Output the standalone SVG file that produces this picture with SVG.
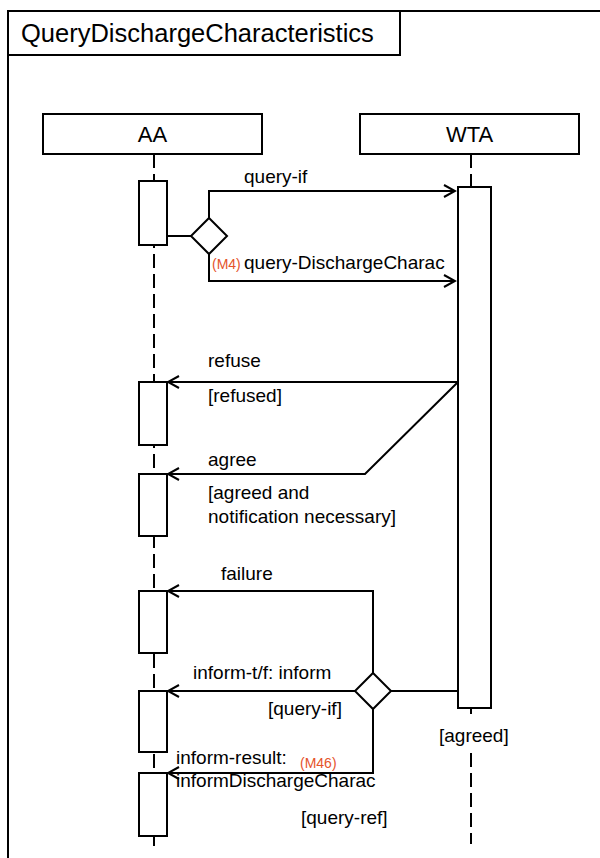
<svg xmlns="http://www.w3.org/2000/svg" width="600" height="858" viewBox="0 0 600 858">
<defs>
<marker id="open" markerWidth="14" markerHeight="14" refX="12" refY="7" orient="auto" markerUnits="userSpaceOnUse">
<path d="M1,1 L12,7 L1,13" fill="none" stroke="#000" stroke-width="2"/>
</marker>
<style>
text{font-family:"Liberation Sans",Arial,sans-serif;fill:#000}
.lbl{font-size:19px}
.red{font-size:14px;fill:#e5532b}
.box{fill:#fff;stroke:#000;stroke-width:2}
.ln{fill:none;stroke:#000;stroke-width:2}
.life{fill:none;stroke:#000;stroke-width:2;stroke-dasharray:14 6}
.msg{fill:none;stroke:#000;stroke-width:2;marker-end:url(#open)}
</style>
</defs>
<rect width="600" height="858" fill="#fff"/>
<g id="frame">
<path class="ln" d="M8,858 V11 H601"/>
<rect class="box" x="8" y="11" width="392" height="44"/>
<text x="21" y="42" font-size="25.5">QueryDischargeCharacteristics</text>
</g>
<g id="AA">
<path class="life" d="M154,154 V846"/>
<rect class="box" x="43" y="114" width="219" height="40"/>
<text x="152.5" y="142" font-size="22" text-anchor="middle">AA</text>
<rect class="box" x="139" y="181" width="28" height="64"/>
<rect class="box" x="139" y="382" width="28" height="63"/>
<rect class="box" x="139" y="474" width="28" height="62"/>
<rect class="box" x="139" y="591" width="28" height="62"/>
<rect class="box" x="139" y="691" width="28" height="61"/>
<rect class="box" x="139" y="773" width="28" height="63"/>
</g>
<g id="WTA">
<path class="life" d="M471,154 V187"/>
<path class="ln" d="M471,708 V714"/>
<path class="life" d="M471,753 V844"/>
<rect class="box" x="360" y="114" width="219" height="40"/>
<text x="469.5" y="142" font-size="22" text-anchor="middle">WTA</text>
<rect class="box" x="458" y="187" width="33" height="521"/>
<text class="lbl" x="439" y="742">[agreed]</text>
</g>
<g id="decision1">
<path class="box" d="M209,218 L227,236 L209,254 L191,236 Z"/>
</g>
<g id="decision2">
<path class="box" d="M373,673 L391,691 L373,709 L355,691 Z"/>
</g>
<g id="connectors">
<path class="ln" d="M167,236 H191"/>
<path class="msg" d="M209,218 V191 H455"/>
<path class="msg" d="M209,254 V281 H455"/>
<path class="msg" d="M458,382 H168"/>
<path class="msg" d="M458,382 L365,474 H168"/>
<path class="ln" d="M458,691 H391"/>
<path class="msg" d="M373,673 V591 H168"/>
<path class="msg" d="M355,691 H168"/>
<path class="msg" d="M373,709 V773 H168"/>
</g>
<g id="labels">
<text class="lbl" x="244" y="183">query-if</text>
<text class="red" x="212" y="269">(M4)</text>
<text class="lbl" x="244" y="269">query-DischargeCharac</text>
<text class="lbl" x="208" y="367">refuse</text>
<text class="lbl" x="208" y="402">[refused]</text>
<text class="lbl" x="208" y="466">agree</text>
<text class="lbl" x="208" y="499">[agreed and</text>
<text class="lbl" x="208" y="523">notification necessary]</text>
<text class="lbl" x="221" y="580">failure</text>
<text class="lbl" x="193" y="679">inform-t/f: inform</text>
<text class="lbl" x="268" y="715">[query-if]</text>
<text class="lbl" x="176" y="764">inform-result:</text>
<text class="red" x="300" y="768">(M46)</text>
<text class="lbl" x="176" y="787">informDischargeCharac</text>
<text class="lbl" x="301" y="824">[query-ref]</text>
</g>
</svg>
